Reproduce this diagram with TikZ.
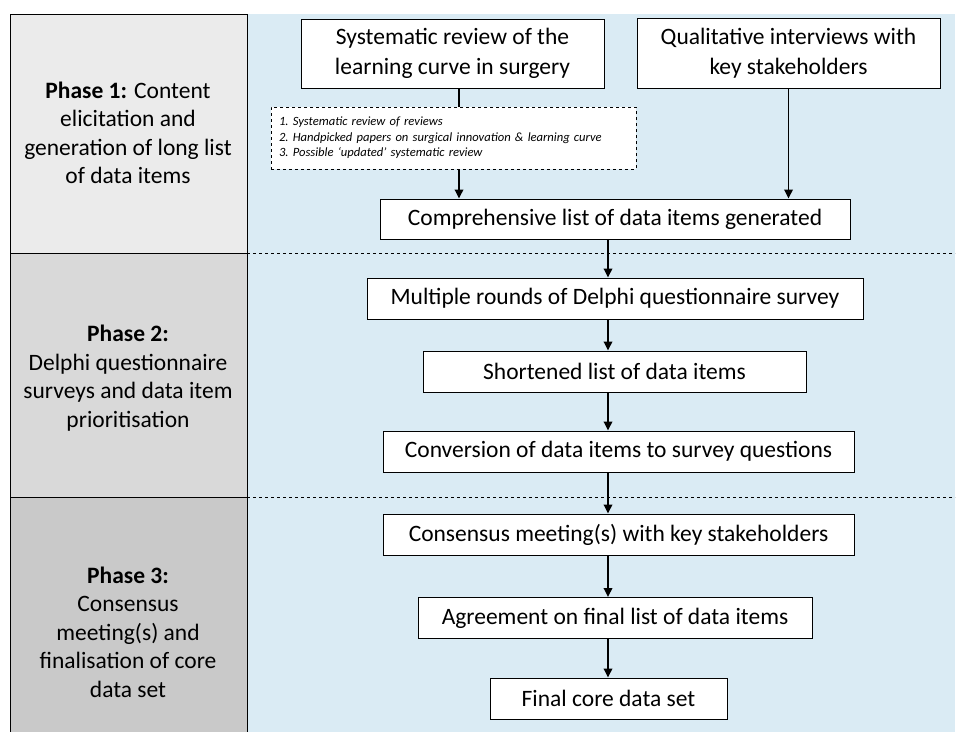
\documentclass[tikz,border=0pt]{standalone}
\usepackage{fontspec}
\setmainfont{Carlito}
\usetikzlibrary{arrows.meta}

\definecolor{phaseA}{HTML}{EBEBEB}
\definecolor{phaseB}{HTML}{D9D9D9}
\definecolor{phaseC}{HTML}{C9C9C9}
\definecolor{flowbg}{HTML}{DAEBF4}

\tikzset{
    stepbox/.style={draw, fill=white, line width=1pt, align=center, minimum height=41pt, inner sep=2pt,
                    font=\fontsize{23.5}{30}\selectfont},
    phasetext/.style={align=center, font=\fontsize{23.5}{28.5}\selectfont},
    flow/.style={line width=1.8pt, -{Triangle[length=9pt,width=8.5pt]}},
}

\begin{document}
\begin{tikzpicture}[x=1pt, y=-1pt]
        \useasboundingbox (0,0) rectangle (957,731);
        \clip (0,0) rectangle (957,731);

        % Background
        \path[fill=flowbg] (247,14) rectangle (955,735);
        \path[fill=phaseA] (10,14) rectangle (247,253);
        \path[fill=phaseB] (10,253) rectangle (247,497);
        \path[fill=phaseC] (10,497) rectangle (247,735);
        \path[draw, line width=1pt] (10,735) -- (10,14) -- (247,14) -- (247,735) % Venstre kolonne
                        (10,253) -- (247,253) (10,497) -- (247,497); % Faseskift
        \path[draw, dashed, line width=0.8pt] (247,253) -- (955,253) (247,497) -- (955,497);

        % Fase tekster
        \node[phasetext] (p1) at (128,133) {\textbf{Phase 1:} Content\\elicitation and\\generation of long list\\of data items};
        \node[phasetext] (p2) at (128,378) {\textbf{Phase 2:}\\Delphi questionnaire\\surveys and data item\\prioritisation};
        \node[phasetext] (p3) at (128,632) {\textbf{Phase 3:}\\Consensus\\meeting(s) and\\finalisation of core\\data set};

        % Bokse
        \node[stepbox, minimum width=303pt, minimum height=69pt] (review) at (452.5,53.5) {Systematic review of the\\learning curve in surgery};
        \node[stepbox, minimum width=303pt, minimum height=70pt] (interviews) at (788.5,53) {Qualitative interviews with\\key stakeholders};
        \node[draw, dashed, fill=white, line width=0.8pt, text width=349pt, inner xsep=8pt, minimum height=62pt,
              align=left, font=\fontsize{12.6}{15.5}\selectfont\itshape\frenchspacing] (sources) at (453.5,138)
              {1. Systematic review of reviews\\2. Handpicked papers on surgical innovation \& learning curve\\3. Possible ‘updated’ systematic review};
        \node[stepbox, minimum width=470pt, minimum height=40pt] (longlist) at (615,219) {Comprehensive list of data items generated};
        \node[stepbox, minimum width=496pt] (delphi) at (615,298.5) {Multiple rounds of Delphi questionnaire survey};
        \node[stepbox, minimum width=383pt] (shortlist) at (614.5,371.5) {Shortened list of data items};
        \node[stepbox, minimum width=471pt] (convert) at (618.5,451.5) {Conversion of data items to survey questions};
        \node[stepbox, minimum width=471pt] (meeting) at (618.5,534.5) {Consensus meeting(s) with key stakeholders};
        \node[stepbox, minimum width=394pt] (agree) at (615,618) {Agreement on final list of data items};
        \node[stepbox, minimum width=237pt] (coreset) at (608.5,698.5) {Final core data set};

        % Pile
        \coordinate (lane) at (459,0);
        \coordinate (spine) at (608,0);
        \draw[line width=1.8pt] (review.south -| lane) -- (sources.north -| lane);
        \draw[flow] (sources.south -| lane) -- (longlist.north -| lane);
        \draw[flow] (interviews) -- (interviews |- longlist.north);
        \draw[flow] (longlist.south -| spine) -- (delphi.north -| spine);
        \draw[flow] (delphi.south -| spine) -- (shortlist.north -| spine);
        \draw[flow] (shortlist.south -| spine) -- (convert.north -| spine);
        \draw[flow] (convert.south -| spine) -- (meeting.north -| spine);
        \draw[flow] (meeting.south -| spine) -- (agree.north -| spine);
        \draw[flow] (agree.south -| spine) -- (coreset.north -| spine);
    \end{tikzpicture}
\end{document}
